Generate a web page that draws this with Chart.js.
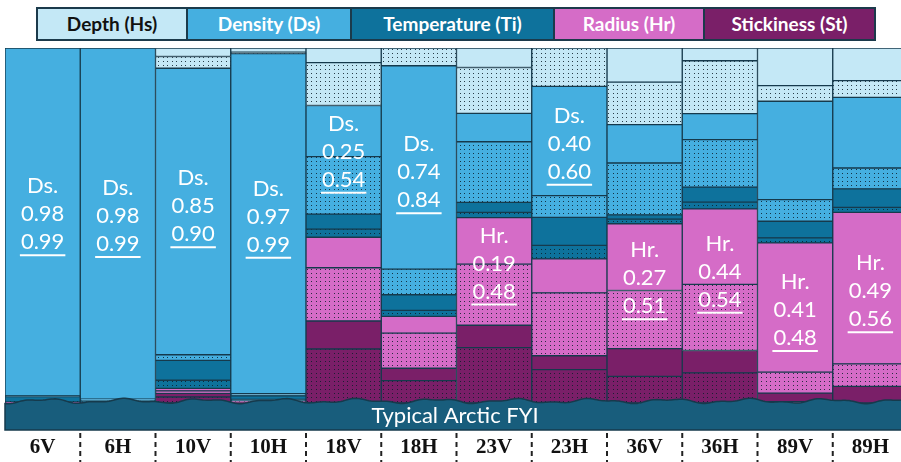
<!DOCTYPE html>
<html>
<head>
<meta charset="utf-8">
<script src="https://cdn.jsdelivr.net/npm/chart.js@4.4.0/dist/chart.umd.min.js"></script>
<style>
  body { margin: 0; overflow: hidden; background: #fff; width: 901px; height: 462px; }
  #wrap { position: absolute; left: 0; top: 0; width: 910px; height: 462px; }
  #legend { position: absolute; left: 36px; top: 7px; height: 30px; display: flex;
            border: 2px solid #1b3a4b; font-family: Lato, sans-serif; font-weight: bold; font-size: 19px; }
  #legend div { height: 30px; line-height: 30px; text-align: center; color: #fff; border-left: 2px solid #1b3a4b; }
  #legend div:first-child { border-left: none; color: #111; }
</style>
</head>
<body>
<div id="wrap"><canvas id="sobolChart" width="910" height="462"></canvas></div>
<div id="legend"></div>
<script>
// Canaux / fréquences
const channels = ['6V', '6H', '10V', '10H', '18V', '18H', '23V', '23H', '36V', '36H', '89V', '89H'];

// Parts (%) de chaque paramètre : partie principale (unie) et interactions (pointillée)
const hsMain  = [0,    0,    2.4,  1.2,  4.1,  0,    5.5,  0,    9.6,  3.6,  10.6, 9.2];
const hsInter = [0,    0,    3.3,  0.4,  12.1, 5.0,  12.9, 10.8, 12.0, 14.9, 4.4,  4.7];
const dsMain  = [98.0, 98.9, 80.7, 95.8, 14.4, 57.3, 8.0,  30.8, 10.8, 7.3,  27.7, 19.9];
const dsInter = [0.2,  0.3,  1.6,  0.6,  16.2, 7.2,  17.1, 6.1,  14.6, 13.4, 6.1,  5.9];
const tiMain  = [1.4,  0.4,  5.6,  1.0,  4.2,  4.4,  2.8,  7.9,  1.2,  4.2,  4.7,  5.2];
const tiInter = [0.2,  0.2,  2.3,  0.4,  2.3,  1.7,  1.5,  3.8,  1.3,  1.9,  1.4,  1.4];
const hrMain  = [0.1,  0.1,  0.7,  0.2,  8.6,  4.7,  13.1, 9.6,  18.8, 21.3, 36.4, 42.7];
const hrInter = [0.05, 0.05, 0.7,  0.2,  15.0, 9.9,  17.2, 17.7, 16.4, 18.6, 5.9,  6.3];
const stMain  = [0.05, 0.05, 1.0,  0.1,  7.9,  3.5,  6.3,  3.9,  7.8,  6.3,  2.4,  4.7];
const stInter = [0,    0,    1.7,  0.1,  15.2, 6.3,  15.6, 9.4,  7.5,  8.5,  0.4,  0];

// Indices affichés sur chaque barre
const labelParam = ['Ds', 'Ds', 'Ds', 'Ds', 'Ds', 'Ds', 'Hr', 'Ds', 'Hr', 'Hr', 'Hr', 'Hr'];
const firstOrder = ['0.98', '0.98', '0.85', '0.97', '0.25', '0.74', '0.19', '0.40', '0.27', '0.44', '0.41', '0.49'];
const totalOrder = ['0.99', '0.99', '0.90', '0.99', '0.54', '0.84', '0.48', '0.60', '0.51', '0.54', '0.48', '0.56'];

const legendNames = ['Depth (Hs)', 'Density (Ds)', 'Temperature (Ti)', 'Radius (Hr)', 'Stickiness (St)'];
const legendWidths = [148, 162, 201, 148, 169];
const colors = { Hs: '#c4e8f6', Ds: '#45afe0', Ti: '#0e729c', Hr: '#d56cc7', St: '#7a1f68' };
const edge = '#163a4c';

// Légende en HTML
const legendEl = document.getElementById('legend');
legendNames.forEach((name, i) => {
    const d = document.createElement('div');
    d.textContent = name;
    d.style.width = legendWidths[i] + 'px';
    d.style.background = Object.values(colors)[i];
    legendEl.appendChild(d);
});

// Motif pointillé
function dotted(color) {
    const c = document.createElement('canvas');
    c.width = 9; c.height = 4;
    const g = c.getContext('2d');
    g.fillStyle = color;
    g.fillRect(0, 0, 9, 4);
    g.fillStyle = 'rgba(12, 30, 42, 0.85)';
    g.fillRect(1, 1, 1, 1);
    g.fillRect(5, 1, 1, 1);
    return g.createPattern(c, 'repeat');
}

function ds(label, data, color, dots) {
    return {
        label: label,
        data: data,
        backgroundColor: dots ? dotted(color) : color,
        borderColor: edge,
        borderWidth: 1,
        borderSkipped: false,
        barPercentage: 1,
        categoryPercentage: 1
    };
}

// de bas en haut
const datasets = [
    ds('St int', stInter, colors.St, true),
    ds('St', stMain, colors.St, false),
    ds('Hr int', hrInter, colors.Hr, true),
    ds('Hr', hrMain, colors.Hr, false),
    ds('Ti int', tiInter, colors.Ti, true),
    ds('Ti', tiMain, colors.Ti, false),
    ds('Ds int', dsInter, colors.Ds, true),
    ds('Ds', dsMain, colors.Ds, false),
    ds('Hs int', hsInter, colors.Hs, true),
    ds('Hs', hsMain, colors.Hs, false)
];
const paramIndex = { St: 0, Hr: 2, Ti: 4, Ds: 6, Hs: 8 };

// Étiquettes des indices
const indexLabels = {
    id: 'indexLabels',
    afterDatasetsDraw(chart) {
        const ctx = chart.ctx;
        ctx.save();
        ctx.fillStyle = '#fff';
        ctx.strokeStyle = '#fff';
        ctx.font = '22px Lato, sans-serif';
        ctx.textAlign = 'center';
        ctx.textBaseline = 'middle';
        channels.forEach((ch, i) => {
            const k = paramIndex[labelParam[i]];
            const inter = chart.getDatasetMeta(k).data[i];
            const main = chart.getDatasetMeta(k + 1).data[i];
            const cy = (main.y + inter.base) / 2 - 8;
            const x = main.x;
            ctx.fillText(labelParam[i] + '.', x, cy - 28);
            ctx.fillText(firstOrder[i], x, cy);
            ctx.fillText(totalOrder[i], x, cy + 28);
            const w = ctx.measureText(totalOrder[i]).width;
            ctx.lineWidth = 2;
            ctx.beginPath();
            ctx.moveTo(x - w / 2 - 1, cy + 41);
            ctx.lineTo(x + w / 2 + 1, cy + 41);
            ctx.stroke();
        });
        ctx.restore();
    }
};

// Bande "Typical Arctic FYI" + séparateurs
const iceBand = {
    id: 'iceBand',
    afterDraw(chart) {
        const ctx = chart.ctx;
        const a = chart.chartArea;
        const top = a.bottom - 2, bottom = a.bottom + 27;
        ctx.save();
        ctx.beginPath();
        ctx.moveTo(a.left, bottom);
        for (let x = a.left; x <= a.right; x += 2) {
            const y = top + 1.8 * Math.sin(2 * Math.PI * x / 78 + 1) + 0.9 * Math.sin(2 * Math.PI * x / 33);
            ctx.lineTo(x, y);
        }
        ctx.lineTo(a.right, bottom);
        ctx.closePath();
        ctx.fillStyle = '#185d7c';
        ctx.fill();
        ctx.strokeStyle = edge;
        ctx.lineWidth = 1.5;
        ctx.stroke();
        ctx.fillStyle = '#fff';
        ctx.font = '22px Lato, sans-serif';
        ctx.textAlign = 'center';
        ctx.textBaseline = 'middle';
        ctx.fillText('Typical Arctic FYI', 455, top + 15);

        const xs = chart.scales.x;
        ctx.strokeStyle = '#222';
        ctx.lineWidth = 2;
        ctx.setLineDash([5, 4]);
        for (let i = 1; i < channels.length; i++) {
            const x = (xs.getPixelForValue(i - 1) + xs.getPixelForValue(i)) / 2;
            ctx.beginPath();
            ctx.moveTo(x, bottom + 3);
            ctx.lineTo(x, 462);
            ctx.stroke();
        }
        ctx.restore();
    }
};

new Chart(document.getElementById('sobolChart').getContext('2d'), {
    type: 'bar',
    data: { labels: channels, datasets: datasets },
    options: {
        responsive: false,
        animation: false,
        layout: { padding: { left: 5, right: 2, top: 48, bottom: 2 } },
        plugins: { legend: { display: false }, tooltip: { enabled: false } },
        scales: {
            x: {
                stacked: true,
                grid: { display: false },
                border: { display: false },
                ticks: { color: '#111', padding: 24, maxRotation: 0, minRotation: 0, autoSkip: false,
                         font: { family: 'Liberation Serif', size: 21, weight: 'bold' } },
                afterFit(scale) {
                    scale.height = 57;
                    scale.paddingLeft = 0;
                    scale.paddingRight = 0;
                }
            },
            y: { stacked: true, min: 0, max: 100, display: false }
        }
    },
    plugins: [indexLabels, iceBand]
});
</script>
</body>
</html>
